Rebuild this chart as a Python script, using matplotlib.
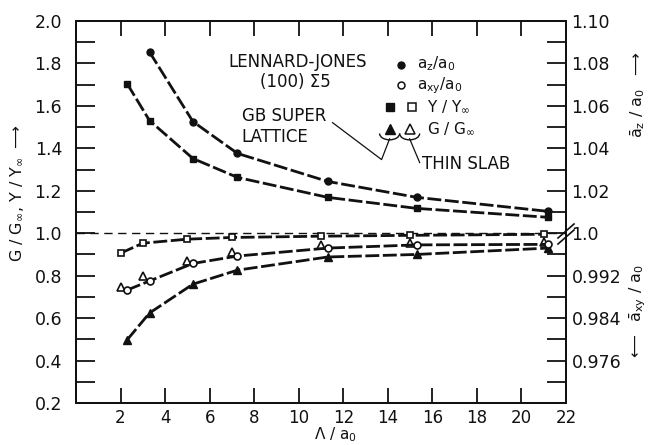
import matplotlib
matplotlib.use('Agg')
import matplotlib.pyplot as plt
from matplotlib.lines import Line2D
from matplotlib.patches import Arc

plt.rcParams['mathtext.default'] = 'regular'
plt.rcParams['font.family'] = ['DejaVu Sans']

# ---------------- data ----------------
lam_sl = [2.3, 3.3, 5.25, 7.25, 11.3, 15.3, 21.2]      # GB superlattice spacing
lam_slab = [2.0, 3.0, 5.0, 7.0, 11.0, 15.0, 21.0]      # thin slab spacing
az_sl = [1.0854, 1.0526, 1.0376, 1.0244, 1.0169, 1.0103]  # a_z/a0 (from 2nd point on)
axy_sl = [0.9893, 0.9910, 0.9943, 0.9957, 0.9972, 0.9978, 0.9979]
Y_sl = [1.704, 1.531, 1.352, 1.263, 1.169, 1.117, 1.075]
G_sl = [0.498, 0.624, 0.760, 0.826, 0.888, 0.900, 0.930]
Y_slab = [0.906, 0.953, 0.972, 0.980, 0.986, 0.990, 0.995]
G_slab = [0.746, 0.798, 0.869, 0.910, 0.944, 0.953, 0.958]

x_ticks = list(range(2, 23, 2))
left_major = [0.2, 0.4, 0.6, 0.8, 1.0, 1.2, 1.4, 1.6, 1.8, 2.0]
left_minor = [0.3, 0.5, 0.7, 0.9, 1.1, 1.3, 1.5, 1.7, 1.9]
az_major = [1.0, 1.02, 1.04, 1.06, 1.08, 1.10]
az_labels = ['1.0', '1.02', '1.04', '1.06', '1.08', '1.10']
az_minor = [1.01, 1.03, 1.05, 1.07, 1.09]
axy_major = [0.992, 0.984, 0.976]
axy_labels = ['0.992', '0.984', '0.976']
axy_minor = [0.996, 0.988, 0.980, 0.972]

W, H = 653, 445
fig = plt.figure(figsize=(W / 100, H / 100), dpi=100)
L, R, T, B = 76, 566, 21, 403
ax = fig.add_axes([L / W, 1 - B / H, (R - L) / W, (B - T) / H])
ax.set_xlim(0, 22)
ax.set_ylim(0.2, 2.0)

ax_az = ax.twinx()
ax_az.set_ylim(0.92, 1.10)
ax_xy = ax.twinx()
ax_xy.set_ylim(0.968, 1.04)

k = '#111111'
for a in (ax, ax_az, ax_xy):
    for s in a.spines.values():
        s.set_linewidth(1.3)
        s.set_color(k)

# x ticks
ax.set_xticks(x_ticks)
ax.set_xticklabels([str(v) for v in x_ticks])
ax.tick_params(axis='x', direction='in', length=11, width=1.3, top=True,
               pad=4, labelsize=12, colors=k)
# left y ticks
ax.set_yticks(left_major)
ax.set_yticklabels(['%.1f' % v for v in left_major])
ax.set_yticks(left_minor, minor=True)
ax.tick_params(axis='y', which='both', direction='in', length=14, width=1.3,
               pad=10, labelsize=12.5, colors=k)
# right y ticks
ax_az.set_yticks(az_major)
ax_az.set_yticklabels(az_labels)
ax_az.set_yticks(az_minor, minor=True)
ax_az.tick_params(axis='y', which='both', direction='in', length=14, width=1.3,
                  pad=4, labelsize=12.5, colors=k)
ax_xy.set_yticks(axy_major)
ax_xy.set_yticklabels(axy_labels)
ax_xy.set_yticks(axy_minor, minor=True)
ax_xy.tick_params(axis='y', which='both', direction='in', length=14, width=1.3,
                  pad=4, labelsize=12.5, colors=k)

# reference dashed line
ax.axhline(1.0, ls=(0, (6, 4)), lw=1.0, color=k, zorder=1)

dash = (0, (5, 1.3))
lw = 2.0
# GB superlattice curves
ax_az.plot(lam_sl[1:], az_sl, ls=dash, lw=lw, color=k, marker='o', ms=5, mfc=k, mec=k)
ax.plot(lam_sl, Y_sl, ls=dash, lw=lw, color=k, marker='s', ms=5, mfc=k, mec=k)
ax.plot(lam_sl, G_sl, ls=dash, lw=lw, color=k, marker='^', ms=6, mfc=k, mec=k)
ax_xy.plot(lam_sl, axy_sl, ls=dash, lw=lw, color=k, marker='o', ms=5, mfc='white',
           mec=k, mew=1.2)
# thin slab
ax.plot(lam_slab, Y_slab, ls=dash, lw=lw, color=k, marker='s', ms=5, mfc='white',
        mec=k, mew=1.2)
ax.plot(lam_slab, G_slab, ls='none', marker='^', ms=6, mfc='white', mec=k, mew=1.2)

# annotations
fs = 12
lfs = 11
ax.text(9.96, 1.807, 'LENNARD-JONES', ha='center', va='center', fontsize=fs, color=k)
ax.text(9.87, 1.714, '(100) \u03a35', ha='center', va='center', fontsize=fs, color=k)
ax.text(7.44, 1.554, 'GB SUPER', ha='left', va='center', fontsize=fs, color=k)
ax.text(7.44, 1.455, 'LATTICE', ha='left', va='center', fontsize=fs, color=k)
ax.text(15.52, 1.324, 'THIN SLAB', ha='left', va='center', fontsize=fs, color=k)

ax.plot([14.57], [1.792], marker='o', ms=5, color=k, ls='none')
ax.text(15.29, 1.797, 'a$_z$/a$_0$', ha='left', va='center', fontsize=lfs, color=k)
ax.plot([14.57], [1.70], marker='o', ms=5, mfc='white', mec=k, mew=1.1, ls='none')
ax.text(15.29, 1.697, 'a$_{xy}$/a$_0$', ha='left', va='center', fontsize=lfs, color=k)
ax.plot([14.08], [1.596], marker='s', ms=5.5, color=k, ls='none')
ax.plot([15.07], [1.596], marker='s', ms=5.5, mfc='white', mec=k, mew=1.1, ls='none')
ax.text(15.78, 1.596, 'Y / Y$_\\infty$', ha='left', va='center', fontsize=lfs, color=k)
ax.plot([14.08], [1.49], marker='^', ms=6.5, color=k, ls='none')
ax.plot([14.98], [1.49], marker='^', ms=6.5, mfc='white', mec=k, mew=1.1, ls='none')
ax.text(15.78, 1.493, 'G / G$_\\infty$', ha='left', va='center', fontsize=lfs, color=k)

# small braces under the triangles
for xc in (14.08, 14.98):
    ax.add_patch(Arc((xc, 1.47), 0.9, 0.06, theta1=180, theta2=360, lw=1.0, color=k))
# leader lines
ax.plot([11.52, 13.72, 14.08], [1.521, 1.347, 1.445], lw=0.9, color=k)
ax.plot([15.43, 14.98], [1.333, 1.445], lw=0.9, color=k)

# axis labels
fig.text(17 / W, 1 - 193 / H, 'G / G$_\\infty$, Y / Y$_\\infty$ $\\longrightarrow$',
         rotation=90, ha='center', va='center', fontsize=11.5, color=k)
fig.text(638 / W, 1 - 95 / H, '$\\bar{a}_z$ / a$_0$  $\\longrightarrow$',
         rotation=90, ha='center', va='center', fontsize=11.5, color=k)
fig.text(638 / W, 1 - 313 / H, '$\\longleftarrow$  $\\bar{a}_{xy}$ / a$_0$',
         rotation=90, ha='center', va='center', fontsize=11.5, color=k)
fig.text(335 / W, 1 - 435 / H, '\u039b / a$_0$', ha='center', va='center',
         fontsize=11, color=k)

# axis break mark on the right spine at 1.0
yb = 234
for dy in (-3, 3):
    fig.add_artist(Line2D([(R - 8) / W, (R + 8) / W],
                          [1 - (yb + dy + 7) / H, 1 - (yb + dy - 7) / H],
                          lw=1.2, color=k))

fig.savefig('out.png', dpi=100)
